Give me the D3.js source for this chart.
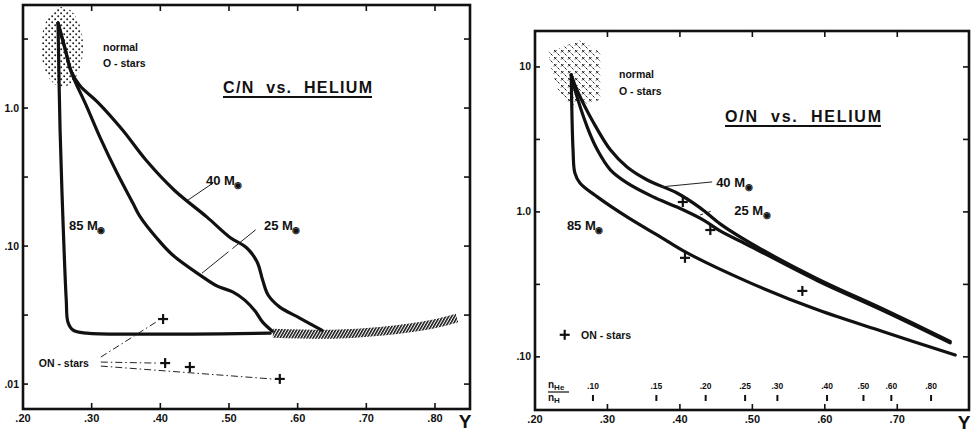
<!DOCTYPE html>
<html lang="en">
<head>
  <meta charset="UTF-8">
  <title>C/N and O/N vs. Helium</title>
  <style>
      body { margin: 0; background: #fff; }
      svg text { font-family: "Liberation Sans", Arial, sans-serif; font-weight: bold; fill: #111; }
      .frame { fill: none; stroke: #111; stroke-width: 2.6; }
      .track { fill: none; stroke: #111; stroke-width: 3.2; stroke-linejoin: round; stroke-linecap: round; }
      .tick { stroke: #111; stroke-width: 1.6; }
      .leader { stroke: #222; stroke-width: 1; fill: none; }
      .plus { stroke: #111; stroke-width: 2.2; }
  </style>
</head>
<body>
<div id="chart"></div>
<script src="https://d3js.org/d3.v7.min.js"></script>
<script>
  // ---- data (Y = helium mass fraction, ratio by number) ----
  const xTicks = [0.2, 0.3, 0.4, 0.5, 0.6, 0.7, 0.8];
  const cnTicks = [1.0, 0.1, 0.01];
  const onTicks = [10, 1.0, 0.1];
  const nHeTicks = [0.10, 0.15, 0.20, 0.25, 0.30, 0.40, 0.50, 0.60, 0.80];

  // C/N tracks
  const cn85 = [[0.251, 4.13], [0.254, 0.693], [0.258, 0.165], [0.263, 0.0406], [0.2655, 0.0281],
    [0.273, 0.0246], [0.293, 0.0234], [0.366, 0.0230], [0.560, 0.0234]];
  const cn25 = [[0.251, 4.13], [0.261, 2.72], [0.271, 1.79], [0.293, 1.02], [0.312, 0.616], [0.337, 0.338],
    [0.360, 0.205], [0.370, 0.165], [0.395, 0.114], [0.418, 0.0861], [0.458, 0.0616], [0.483, 0.0513],
    [0.506, 0.0464], [0.523, 0.0406], [0.538, 0.0338], [0.549, 0.0281], [0.563, 0.0242]];
  const cn40 = [[0.251, 4.13], [0.261, 2.72], [0.270, 1.85], [0.283, 1.45], [0.309, 1.10], [0.345, 0.693],
    [0.379, 0.420], [0.420, 0.255], [0.468, 0.162], [0.501, 0.116], [0.526, 0.0968], [0.541, 0.0766],
    [0.549, 0.0567], [0.557, 0.0442], [0.574, 0.0361], [0.603, 0.0301], [0.635, 0.0246]];
  const cnBand = [[0.564, 0.0234], [0.651, 0.0230], [0.724, 0.0242], [0.797, 0.0272], [0.832, 0.0301]];
  const cnStars = [[0.404, 0.0296], [0.407, 0.0142], [0.443, 0.0133], [0.574, 0.0109]];
  const cnNormal = [0.257, 2.77];

  // O/N tracks
  const on85 = [[0.250, 8.81], [0.2525, 2.68], [0.255, 1.86], [0.262, 1.585], [0.286, 1.27], [0.327, 0.924],
    [0.373, 0.673], [0.410, 0.521], [0.497, 0.324], [0.590, 0.211], [0.681, 0.149], [0.780, 0.103]];
  const on40 = [[0.250, 8.81], [0.258, 6.93], [0.281, 4.11], [0.304, 2.68], [0.327, 2.04], [0.355, 1.66],
    [0.396, 1.35], [0.428, 1.066], [0.4555, 0.827], [0.497, 0.611], [0.590, 0.345], [0.681, 0.213], [0.773, 0.128]];
  const on25 = [[0.250, 8.81], [0.254, 7.28], [0.272, 3.86], [0.286, 2.68], [0.304, 1.95], [0.327, 1.585],
    [0.363, 1.27], [0.396, 1.08], [0.432, 0.881], [0.4555, 0.739], [0.497, 0.580], [0.590, 0.335],
    [0.681, 0.208], [0.773, 0.125]];
  const onStars = [[0.404, 1.17], [0.442, 0.75], [0.407, 0.482], [0.569, 0.285]];
  const onNormal = [[0.218, 12.7], [0.265, 15.4], [0.290, 12.5], [0.290, 5.92], [0.251, 5.30], [0.232, 6.93], [0.221, 10.3]];

  const svg = d3.select("#chart").append("svg")
    .attr("width", 974)
    .attr("height", 432);

  const defs = svg.append("defs");
  const dots = defs.append("pattern").attr("id", "dots")
    .attr("width", 6).attr("height", 6).attr("patternUnits", "userSpaceOnUse");
  dots.append("circle").attr("cx", 1.2).attr("cy", 1.2).attr("r", 1).attr("fill", "#222");
  dots.append("circle").attr("cx", 4.2).attr("cy", 4.2).attr("r", 1).attr("fill", "#222");

  const hatch = defs.append("pattern").attr("id", "hatch")
    .attr("width", 2.6).attr("height", 3).attr("patternUnits", "userSpaceOnUse")
    .attr("patternTransform", "rotate(30)");
  hatch.append("line").attr("x1", 0.7).attr("y1", 0).attr("x2", 0.7).attr("y2", 3)
    .attr("stroke", "#111").attr("stroke-width", 1.6);

  const cross = defs.append("pattern").attr("id", "cross")
    .attr("width", 7).attr("height", 7).attr("patternUnits", "userSpaceOnUse");
  cross.append("path").attr("d", "M1,1 L3.5,3.5 M3.5,1 L1,3.5 M4.5,4.5 L6.5,6.5")
    .attr("stroke", "#222").attr("stroke-width", 1);

  const fmtX = d => d3.format(".2f")(d).replace(/^0/, "");
  const fmtY = d => d >= 1 ? d3.format(d >= 10 ? "d" : ".1f")(d) : d3.format(".2f")(d).replace(/^0/, "");

  function panel(box, xDomain, yDomain, yMajor) {
    const x = d3.scaleLinear().domain(xDomain).range([box.left, box.right]);
    const y = d3.scaleLog().domain(yDomain).range([box.bottom, box.top]);
    const g = svg.append("g");

    g.append("rect").attr("class", "frame")
      .attr("x", box.left).attr("y", box.top)
      .attr("width", box.right - box.left).attr("height", box.bottom - box.top);

    const xt = xTicks.filter(d => x(d) <= box.right - 5);
    const inner = xt.filter(d => x(d) > box.left + 3);
    g.selectAll(".tt").data(inner).enter().append("line").attr("class", "tick")
      .attr("x1", x).attr("x2", x).attr("y1", box.top).attr("y2", box.top + 6);
    g.selectAll(".tb").data(inner).enter().append("line").attr("class", "tick")
      .attr("x1", x).attr("x2", x).attr("y1", box.bottom).attr("y2", box.bottom - 6);
    g.selectAll(".xl").data(xt).enter().append("text")
      .attr("x", x).attr("y", box.bottom + 13)
      .attr("text-anchor", "middle").style("font-size", "11px")
      .text(fmtX);
    g.append("text").attr("x", box.right - 5).attr("y", box.bottom + 19)
      .attr("text-anchor", "middle").style("font-size", "19px").text("Y");

    // major and half-decade ticks on both sides
    const yt = [];
    yMajor.forEach(v => { yt.push(v); yt.push(v * Math.sqrt(10)); });
    const ytIn = yt.filter(v => y(v) > box.top + 3 && y(v) < box.bottom - 3);
    g.selectAll(".yl").data(ytIn).enter().append("line").attr("class", "tick")
      .attr("x1", box.left).attr("x2", box.left + 5).attr("y1", y).attr("y2", y);
    g.selectAll(".yr").data(ytIn).enter().append("line").attr("class", "tick")
      .attr("x1", box.right).attr("x2", box.right - 6).attr("y1", y).attr("y2", y);
    g.selectAll(".ylab").data(yMajor).enter().append("text")
      .attr("x", box.left - 4).attr("y", d => y(d) + 3.5)
      .attr("text-anchor", "end").style("font-size", "10.5px")
      .text(fmtY);
    return {x, y, g};
  }

  const line = (x, y) => d3.line().x(d => x(d[0])).y(d => y(d[1])).curve(d3.curveCatmullRom.alpha(0.5));

  function plus(g, x, y, pts) {
    pts.forEach(p => {
      const cx = x(p[0]), cy = y(p[1]);
      g.append("line").attr("class", "plus").attr("x1", cx - 5).attr("x2", cx + 5).attr("y1", cy).attr("y2", cy);
      g.append("line").attr("class", "plus").attr("x1", cx).attr("x2", cx).attr("y1", cy - 5).attr("y2", cy + 5);
    });
  }

  function mass(g, px, py, m) {
    const t = g.append("text").attr("x", px).attr("y", py + 4.5).style("font-size", "13px");
    t.append("tspan").text(m + " M");
    t.append("tspan").attr("dy", 3).attr("dx", -0.5).style("font-size", "9px").text("\u25C9");
  }

  function title(g, px, py, str, w) {
    g.append("text").attr("x", px).attr("y", py).style("font-size", "16px")
      .attr("textLength", w).attr("lengthAdjust", "spacing").style("white-space", "pre").text(str);
    g.append("line").attr("x1", px).attr("x2", px + w).attr("y1", py + 4).attr("y2", py + 4)
      .attr("stroke", "#111").attr("stroke-width", 1.8);
  }

  // ---------- left panel: C/N ----------
  const L = panel({left: 23, right: 470, top: 5, bottom: 409}, [0.2, 0.851], [0.0066, 5.58], cnTicks);

  L.g.append("ellipse").attr("cx", L.x(cnNormal[0])).attr("cy", L.y(cnNormal[1]))
    .attr("rx", 21).attr("ry", 40).attr("fill", "url(#dots)");

  L.g.append("path").datum(cnBand).attr("d", line(L.x, L.y))
    .attr("fill", "none").attr("stroke", "url(#hatch)").attr("stroke-width", 9);

  [cn85, cn25, cn40].forEach(s => {
    L.g.append("path").datum(s).attr("class", "track").attr("d", line(L.x, L.y));
  });

  plus(L.g, L.x, L.y, cnStars);

  L.g.append("text").attr("x", L.x(0.3165)).attr("y", L.y(2.77) + 4).style("font-size", "10.5px").text("normal");
  L.g.append("text").attr("x", L.x(0.3165)).attr("y", L.y(2.12) + 4).style("font-size", "10.5px")
    .style("white-space", "pre").text("O - stars");
  title(L.g, 223, 93, "C/N  vs.  HELIUM", 149);

  mass(L.g, L.x(0.4665), L.y(0.301), 40);
  mass(L.g, L.x(0.551), L.y(0.140), 25);
  mass(L.g, L.x(0.267), L.y(0.140), 85);
  L.g.append("line").attr("class", "leader")
    .attr("x1", L.x(0.440)).attr("y1", L.y(0.215)).attr("x2", L.x(0.4767)).attr("y2", L.y(0.286));
  L.g.append("line").attr("class", "leader").attr("stroke-dasharray", "34,5,30")
    .attr("x1", L.x(0.4607)).attr("y1", L.y(0.0637)).attr("x2", L.x(0.542)).attr("y2", L.y(0.135));

  // ON-stars label with dash-dot leaders
  const onX = L.x(0.223), onY = L.y(0.0142);
  L.g.append("text").attr("x", onX).attr("y", onY + 4).style("font-size", "10.5px")
    .style("white-space", "pre").text("ON - stars");
  [[0, -6, cnStars[0], -7, 3], [0, -1, cnStars[1], -9, 0], [0, 3, cnStars[3], -8, 0]].forEach(([dx, dy, p, ex, ey]) => {
    L.g.append("line").attr("class", "leader").attr("stroke-dasharray", "7,3,1.5,3")
      .attr("x1", onX + 62 + dx).attr("y1", onY + dy)
      .attr("x2", L.x(p[0]) + ex).attr("y2", L.y(p[1]) + ey);
  });

  // ---------- right panel: O/N ----------
  const R = panel({left: 535, right: 969, top: 31, bottom: 410}, [0.2, 0.799], [0.043, 17.7], onTicks);

  R.g.append("path").datum(onNormal)
    .attr("d", d3.line().x(d => R.x(d[0])).y(d => R.y(d[1])).curve(d3.curveLinearClosed))
    .attr("fill", "url(#cross)");

  [on85, on25, on40].forEach(s => {
    R.g.append("path").datum(s).attr("class", "track").attr("d", line(R.x, R.y));
  });

  plus(R.g, R.x, R.y, onStars);

  R.g.append("text").attr("x", R.x(0.316)).attr("y", R.y(8.95) + 4).style("font-size", "10.5px").text("normal");
  R.g.append("text").attr("x", R.x(0.316)).attr("y", R.y(6.82) + 4).style("font-size", "10.5px")
    .style("white-space", "pre").text("O - stars");
  title(R.g, 725, 122, "O/N  vs.  HELIUM", 156);

  mass(R.g, R.x(0.450), R.y(1.585), 40);
  mass(R.g, R.x(0.475), R.y(1.016), 25);
  mass(R.g, R.x(0.244), R.y(0.80), 85);
  R.g.append("line").attr("class", "leader")
    .attr("x1", R.x(0.373)).attr("y1", R.y(1.486)).attr("x2", R.x(0.4445)).attr("y2", R.y(1.61));
  R.g.append("line").attr("class", "leader").attr("stroke-dasharray", "3,5")
    .attr("x1", R.x(0.428)).attr("y1", R.y(0.953)).attr("x2", R.x(0.4445)).attr("y2", R.y(1.016));

  plus(R.g, R.x, R.y, [[0.241, 0.142]]);
  R.g.append("text").attr("x", R.x(0.2635)).attr("y", R.y(0.142) + 4).style("font-size", "10.5px")
    .style("white-space", "pre").text("ON - stars");

  // secondary scale: n_He/n_H along the Y axis (Y = 0.98 * 4y / (1 + 4y))
  const heY = r => 0.98 * 4 * r / (1 + 4 * r);
  R.g.selectAll(".nh").data(nHeTicks).enter().append("line").attr("class", "tick")
    .attr("x1", d => R.x(heY(d))).attr("x2", d => R.x(heY(d)))
    .attr("y1", 395).attr("y2", 401).style("stroke-width", 2);
  R.g.selectAll(".nhl").data(nHeTicks).enter().append("text")
    .attr("x", d => R.x(heY(d))).attr("y", 389)
    .attr("text-anchor", "middle").style("font-size", "8.5px")
    .text(fmtX);
  const fr = R.g.append("g").attr("transform", "translate(548,0)");
  fr.append("text").attr("x", 0).attr("y", 388).style("font-size", "10px").text("n")
    .append("tspan").attr("dy", 2).style("font-size", "8px").text("He");
  fr.append("line").attr("x1", 0).attr("x2", 21).attr("y1", 392).attr("y2", 392)
    .attr("stroke", "#111").attr("stroke-width", 1.2);
  fr.append("text").attr("x", 0).attr("y", 401).style("font-size", "10px").text("n")
    .append("tspan").attr("dy", 2).style("font-size", "8px").text("H");
</script>
</body>
</html>
